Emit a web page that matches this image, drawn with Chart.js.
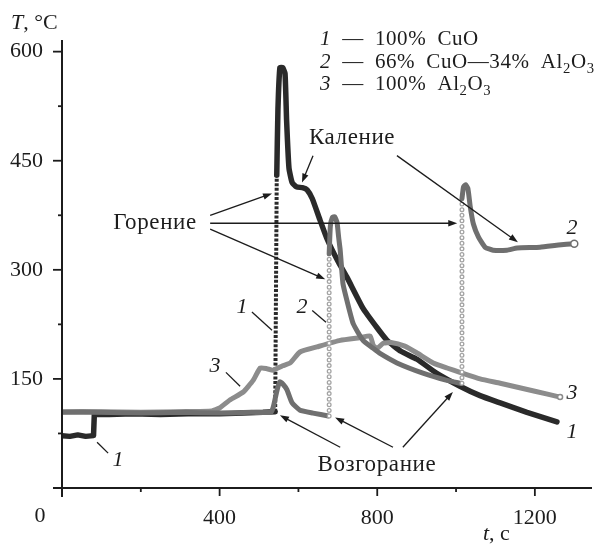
<!DOCTYPE html>
<html>
<head>
<meta charset="utf-8">
<script src="https://cdn.jsdelivr.net/npm/chart.js@4.4.0/dist/chart.umd.min.js"></script>
<style>
  html, body { margin: 0; padding: 0; background: #fff; }
  canvas { display: block; }
</style>
</head>
<body>
<canvas id="tempChart" width="603" height="546"></canvas>
<script>
// axis ticks
const xTicks = [0, 400, 800, 1200];
const xMinorTicks = [200, 600, 1000];
const yTicks = [0, 150, 300, 450, 600];
const yMinorTicks = [75, 225, 375, 525];

// 1 - 100% CuO
const cuoLowT = [0, 20, 40, 60, 80, 82, 120, 180, 250, 320, 400, 460, 510, 541];
const cuoLowTemp = [72, 71, 73, 71, 72, 101, 101, 102, 101, 102, 102, 103, 104, 105];
const cuoJumpT = [541, 545];
const cuoJumpTemp = [105, 430];
const cuoHighT = [545, 548, 553, 560, 566, 570, 576, 584, 595, 610, 622, 635, 655, 673, 700, 723, 764, 800, 825, 860, 901, 950, 1010, 1061, 1112, 1180, 1256];
const cuoHighTemp = [430, 520, 578, 578, 570, 505, 440, 420, 414, 413, 410, 398, 368, 342, 312, 290, 247, 220, 203, 188, 177, 158, 140, 127, 117, 104, 91];

// 2 - 66% CuO - 34% Al2O3
const mixPreT = [0, 100, 200, 300, 400, 480, 530, 536, 546, 553, 562, 571, 584, 604, 637, 676];
const mixPreTemp = [104, 104, 103, 104, 103, 104, 104, 111, 135, 146, 142, 135, 117, 107, 103, 99];
const mixJump1T = [678, 678];
const mixJump1Temp = [99, 322];
const mixMidT = [678, 681, 686, 692, 698, 702, 706, 713, 723, 739, 764, 790, 807, 850, 916, 977, 1012];
const mixMidTemp = [322, 360, 372, 373, 365, 345, 327, 281, 258, 226, 203, 192, 185, 172, 158, 148, 144];
const mixJump2T = [1015, 1015];
const mixJump2Temp = [144, 398];
const mixPostT = [1015, 1019, 1024, 1030, 1036, 1044, 1057, 1074, 1094, 1129, 1155, 1213, 1260, 1300];
const mixPostTemp = [398, 414, 417, 412, 387, 363, 345, 331, 327, 327, 330, 331, 334, 336];

// 3 - 100% Al2O3
const aluT = [0, 100, 200, 300, 380, 400, 426, 460, 485, 503, 520, 536, 560, 579, 604, 647, 706, 760, 782, 790, 800, 815, 835, 870, 900, 942, 977, 1010, 1061, 1112, 1200, 1264];
const aluTemp = [105, 105, 104, 105, 106, 110, 121, 132, 148, 165, 164, 162, 168, 172, 187, 194, 203, 207, 209, 196, 192, 199, 200, 195, 186, 172, 165, 159, 150, 144, 133, 125];

const INK = '#1c1c1c';
const CUO = '#2a2a2a';
const MIX = '#6f6f6f';
const ALU = '#8c8c8c';
const RING = '#a4a4a4';
const SERIF = '"Liberation Serif", "DejaVu Serif", serif';
const SP = '\u2002';

const pts = (ts, vs) => ts.map((t, i) => ({ x: t, y: vs[i] }));

function curve(ts, vs, color, width, extra) {
  return Object.assign({
    data: pts(ts, vs),
    showLine: true,
    borderColor: color,
    borderWidth: width,
    borderCapStyle: 'round',
    borderJoinStyle: 'round',
    tension: 0.15,
    pointRadius: 0
  }, extra || {});
}

// last point marker (open circle)
const endMarker = r => ({
  pointRadius: c => c.dataIndex === c.dataset.data.length - 1 ? r : 0,
  pointBackgroundColor: '#fff',
  pointBorderWidth: 1.5
});

// columns of open circles: dotted line + white dotted overlay
const ringCol = (ts, vs, color, width) => curve(ts, vs, color, width, {
  borderDash: [0, 5.6], tension: 0
});

const datasets = [
  ringCol(mixJump1T, mixJump1Temp, '#fff', 2.4),
  ringCol(mixJump1T, mixJump1Temp, RING, 5),
  ringCol(mixJump2T, mixJump2Temp, '#fff', 2.4),
  ringCol(mixJump2T, mixJump2Temp, RING, 5),
  curve(mixPreT, mixPreTemp, MIX, 5),
  curve(mixMidT, mixMidTemp, MIX, 5),
  curve(mixPostT, mixPostTemp, MIX, 5, Object.assign(endMarker(3.5), { pointBorderColor: MIX })),
  curve(aluT, aluTemp, ALU, 5, Object.assign(endMarker(2.5), { pointBorderColor: ALU })),
  curve(cuoJumpT, cuoJumpTemp, CUO, 4, { borderDash: [3, 1.6], borderCapStyle: 'butt', tension: 0 }),
  curve(cuoLowT, cuoLowTemp, CUO, 5.5, { tension: 0 }),
  curve(cuoHighT, cuoHighTemp, CUO, 5.5)
];

// legend text
const legendLines = [
  [{ s: '1', it: true }, { s: SP + '—' + SP + '100%' + SP + 'CuO' }],
  [{ s: '2', it: true }, { s: SP + '—' + SP + '66%' + SP + 'CuO—34%' + SP + 'Al' }, { s: '2', sub: true }, { s: 'O' }, { s: '3', sub: true }],
  [{ s: '3', it: true }, { s: SP + '—' + SP + '100%' + SP + 'Al' }, { s: '2', sub: true }, { s: 'O' }, { s: '3', sub: true }]
];

// annotations, in data units: text centre and arrows [from t, from T, to t, to T]
const notes = [
  { text: 'Горение', t: 236, T: 365, arrows: [[376, 375, 533, 405], [376, 364, 1003, 364], [376, 356, 668, 287]] },
  { text: 'Каление', t: 736, T: 481, arrows: [[637, 457, 609, 420], [850, 457, 1157, 338]] },
  { text: 'Возгорание', t: 799, T: 32, arrows: [[706, 56, 553, 100], [840, 56, 693, 97], [865, 56, 992, 132]] }
];
// curve numbers with leader lines
const curveLabels = [
  { text: '1', t: 142, T: 38, lead: [89, 63, 117, 48] },
  { text: '1', t: 457, T: 249, lead: [482, 242, 533, 217] },
  { text: '2', t: 609, T: 249, lead: [635, 244, 670, 228] },
  { text: '3', t: 388, T: 168, lead: [416, 159, 452, 140] },
  { text: '2', t: 1294, T: 357 },
  { text: '3', t: 1294, T: 130 },
  { text: '1', t: 1294, T: 77 }
];

function seg(ctx, x1, y1, x2, y2) {
  ctx.beginPath(); ctx.moveTo(x1, y1); ctx.lineTo(x2, y2); ctx.stroke();
}

function arrow(ctx, x1, y1, x2, y2) {
  const a = Math.atan2(y2 - y1, x2 - x1), L = 9, W = 3.2;
  seg(ctx, x1, y1, x2 - 6 * Math.cos(a), y2 - 6 * Math.sin(a));
  ctx.beginPath();
  ctx.moveTo(x2, y2);
  ctx.lineTo(x2 - L * Math.cos(a) + W * Math.sin(a), y2 - L * Math.sin(a) - W * Math.cos(a));
  ctx.lineTo(x2 - L * Math.cos(a) - W * Math.sin(a), y2 - L * Math.sin(a) + W * Math.cos(a));
  ctx.closePath(); ctx.fill();
}

function drawRich(ctx, parts, x, y, size) {
  parts.forEach(p => {
    const fs = p.sub ? size * 0.7 : size;
    ctx.font = (p.it ? 'italic ' : '') + fs + 'px ' + SERIF;
    ctx.fillText(p.s, x, y + (p.sub ? size * 0.25 : 0));
    x += ctx.measureText(p.s).width;
  });
}

const overlay = {
  id: 'overlay',
  afterDraw(chart) {
    const { ctx, scales: { x, y } } = chart;
    const px = v => x.getPixelForValue(v), py = v => y.getPixelForValue(v);
    const x0 = px(0), y0 = py(0);
    ctx.save();
    ctx.strokeStyle = INK; ctx.fillStyle = INK; ctx.lineCap = 'butt';

    // axes and tick marks
    ctx.lineWidth = 2;
    seg(ctx, x0 - 9, y0, x.right, y0);
    seg(ctx, x0, y.top, x0, y0 + 9);
    ctx.lineWidth = 1.8;
    yTicks.forEach(v => seg(ctx, x0 - 9, py(v), x0, py(v)));
    yMinorTicks.forEach(v => seg(ctx, x0 - 4, py(v), x0, py(v)));
    xTicks.forEach(v => seg(ctx, px(v), y0, px(v), y0 + 8));
    xMinorTicks.forEach(v => seg(ctx, px(v), y0, px(v), y0 + 4));

    // origin label and axis titles
    ctx.textBaseline = 'middle'; ctx.textAlign = 'center';
    ctx.font = '22px ' + SERIF;
    ctx.fillText('0', x0 - 22, y0 + 28);
    ctx.textBaseline = 'alphabetic'; ctx.textAlign = 'left';
    drawRich(ctx, [{ s: 'T', it: true }, { s: ', °C' }], 11, 29, 22);
    drawRich(ctx, [{ s: 't', it: true }, { s: ', с' }], 483, 540, 22);

    // legend
    ctx.letterSpacing = '0.6px';
    legendLines.forEach((parts, i) => drawRich(ctx, parts, 320, 45 + i * 22.5, 21));

    // annotations
    ctx.letterSpacing = '0.6px';
    ctx.lineWidth = 1.3;
    ctx.textAlign = 'center'; ctx.textBaseline = 'middle';
    ctx.font = '23px ' + SERIF;
    notes.forEach(n => {
      ctx.fillText(n.text, px(n.t), py(n.T));
      n.arrows.forEach(a => arrow(ctx, px(a[0]), py(a[1]), px(a[2]), py(a[3])));
    });
    ctx.letterSpacing = '0px';
    ctx.font = 'italic 22px ' + SERIF;
    curveLabels.forEach(l => {
      ctx.fillText(l.text, px(l.t), py(l.T));
      if (l.lead) seg(ctx, px(l.lead[0]), py(l.lead[1]), px(l.lead[2]), py(l.lead[3]));
    });
    ctx.restore();
  }
};

const tickFont = { family: SERIF, size: 22 };

new Chart(document.getElementById('tempChart'), {
  type: 'scatter',
  data: { datasets },
  options: {
    responsive: false,
    animation: false,
    layout: { padding: { top: 40, right: 11, left: 0, bottom: 0 } },
    plugins: { legend: { display: false }, tooltip: { enabled: false } },
    scales: {
      x: {
        type: 'linear', min: 0, max: 1345,
        afterFit: s => { s.height = 58; },
        afterBuildTicks: s => { s.ticks = xTicks.map(v => ({ value: v })); },
        grid: { display: false, drawTicks: false },
        border: { display: false },
        ticks: { callback: v => (v === 0 ? '' : v), font: tickFont, color: INK, padding: 17, maxRotation: 0, autoSkip: false }
      },
      y: {
        type: 'linear', min: 0, max: 616,
        afterFit: s => { s.width = 62; },
        afterBuildTicks: s => { s.ticks = yTicks.map(v => ({ value: v })); },
        grid: { display: false, drawTicks: false },
        border: { display: false },
        ticks: { callback: v => (v === 0 ? '' : v), font: tickFont, color: INK, padding: 19, autoSkip: false }
      }
    }
  },
  plugins: [overlay]
});
</script>
</body>
</html>
